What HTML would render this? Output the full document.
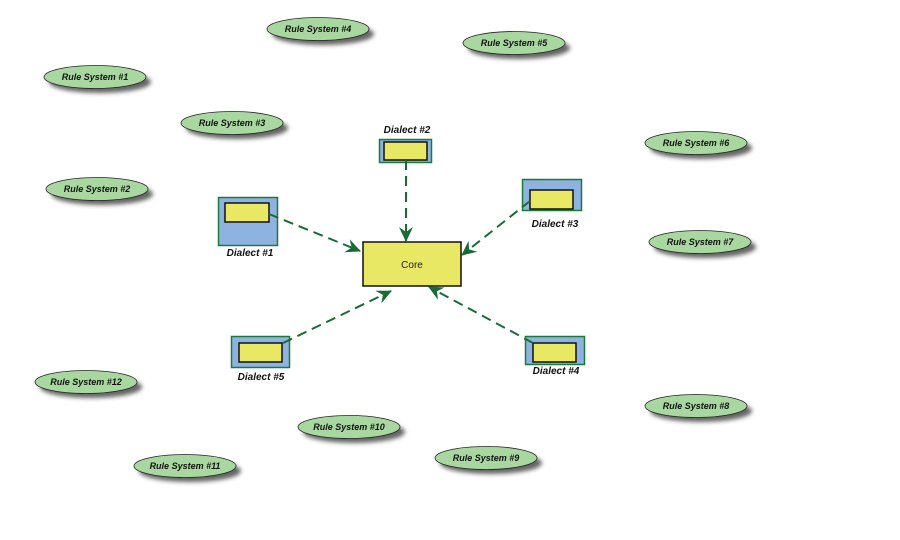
<!DOCTYPE html>
<html><head><meta charset="utf-8"><style>
body{margin:0;background:#fff;}
svg{display:block;}
.rl{font:italic bold 9px "Liberation Sans",sans-serif;fill:#111;text-anchor:middle;}
.dl{font:italic bold 10px "Liberation Sans",sans-serif;fill:#111;text-anchor:middle;}
</style></head><body>
<svg width="900" height="540" viewBox="0 0 900 540" xmlns="http://www.w3.org/2000/svg">
<defs>
<filter id="sh" x="-20%" y="-40%" width="150%" height="200%"><feGaussianBlur stdDeviation="2"/></filter>
<marker id="ar" markerWidth="16" markerHeight="14" refX="14" refY="7" orient="auto" markerUnits="userSpaceOnUse">
<path d="M0,0 L15,7 L0,14 L5,7 Z" fill="#1a6b35"/></marker>
<g id="ell">
<ellipse cx="5" cy="5" rx="51" ry="11" fill="#333" opacity="0.75" filter="url(#sh)"/>
<ellipse cx="0" cy="0" rx="51" ry="11.5" fill="#a8d8a0" stroke="#222" stroke-width="0.8"/>
</g>
</defs>
<g>
<use href="#ell" x="95" y="77"/><text class="rl" x="95" y="80">Rule System #1</text>
<use href="#ell" x="318" y="29"/><text class="rl" x="318" y="32">Rule System #4</text>
<use href="#ell" x="514" y="43"/><text class="rl" x="514" y="46">Rule System #5</text>
<use href="#ell" x="232" y="123"/><text class="rl" x="232" y="126">Rule System #3</text>
<use href="#ell" x="696" y="143"/><text class="rl" x="696" y="146">Rule System #6</text>
<use href="#ell" x="97" y="189"/><text class="rl" x="97" y="192">Rule System #2</text>
<use href="#ell" x="700" y="242"/><text class="rl" x="700" y="245">Rule System #7</text>
<use href="#ell" x="86" y="382"/><text class="rl" x="86" y="385">Rule System #12</text>
<use href="#ell" x="696" y="406"/><text class="rl" x="696" y="409">Rule System #8</text>
<use href="#ell" x="349" y="427"/><text class="rl" x="349" y="430">Rule System #10</text>
<use href="#ell" x="486" y="458"/><text class="rl" x="486" y="461">Rule System #9</text>
<use href="#ell" x="185" y="466"/><text class="rl" x="185" y="469">Rule System #11</text>
</g>
<g stroke-width="1.5" fill="#8fb3e0" stroke="#1a7a3a">
<rect x="218.5" y="197.5" width="59" height="48"/>
<rect x="379.5" y="139.5" width="52" height="23"/>
<rect x="522.5" y="179.5" width="59" height="31"/>
<rect x="231.5" y="336.5" width="58" height="31"/>
<rect x="525.5" y="336.5" width="59" height="28"/>
</g>
<g stroke="#111" stroke-width="1.5" fill="#e8e864">
<rect x="225" y="203" width="44" height="19"/>
<rect x="384" y="142" width="43" height="18"/>
<rect x="530" y="190" width="43" height="19"/>
<rect x="239" y="343" width="43" height="19"/>
<rect x="533" y="343" width="43" height="19"/>
<rect x="363" y="242" width="98" height="44"/>
</g>
<g stroke="#1a6b35" stroke-width="2" stroke-dasharray="10,6" fill="none" marker-end="url(#ar)">
<line x1="269" y1="214" x2="360" y2="251"/>
<line x1="406" y1="160" x2="406" y2="241"/>
<line x1="530" y1="201" x2="462" y2="255"/>
<line x1="283" y1="343" x2="391" y2="291"/>
<line x1="533" y1="343" x2="429" y2="287"/>
</g>
<text x="412" y="268" font-family="Liberation Sans,sans-serif" font-size="10" text-anchor="middle" fill="#222">Core</text>
<text class="dl" x="250" y="256">Dialect #1</text>
<text class="dl" x="407" y="133">Dialect #2</text>
<text class="dl" x="555" y="227">Dialect #3</text>
<text class="dl" x="261" y="380">Dialect #5</text>
<text class="dl" x="556" y="374">Dialect #4</text>
</svg>
</body></html>
